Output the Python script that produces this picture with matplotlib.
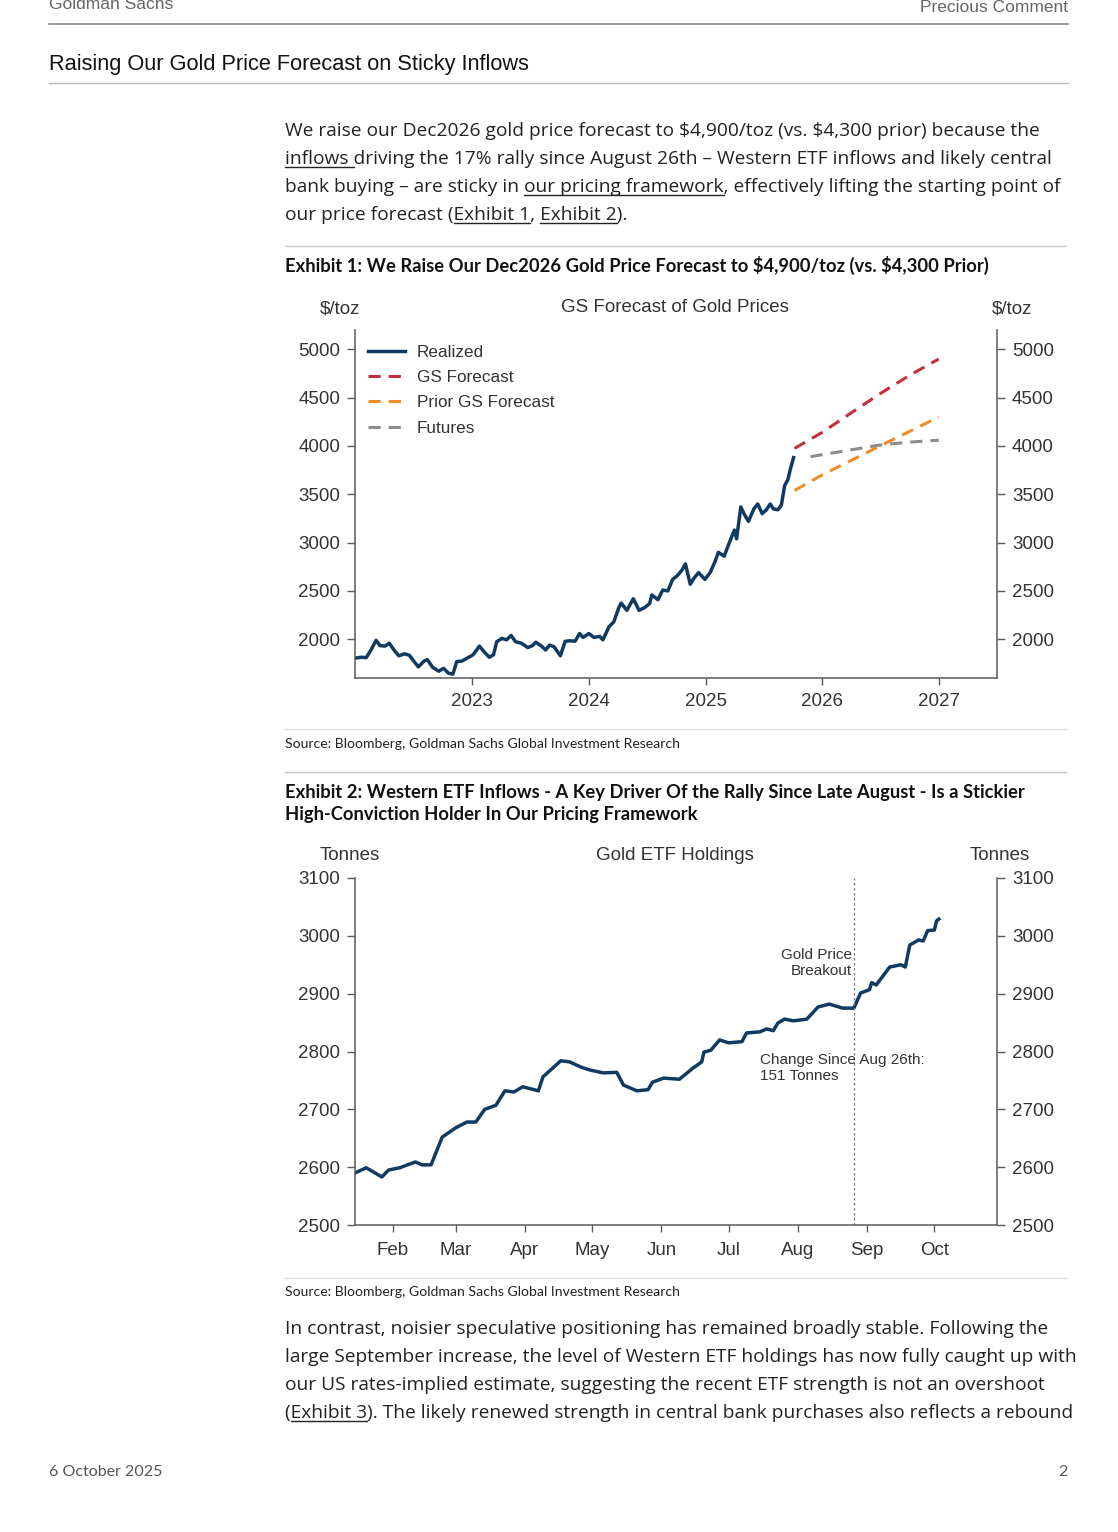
import matplotlib
matplotlib.use('Agg')
import matplotlib.pyplot as plt
import matplotlib.dates as mdates
from matplotlib.lines import Line2D
import pandas as pd

# ---- data: exhibit 1 (gold price, $/toz) ----
realized_dates = [
    '2022-01-01', '2022-01-21', '2022-02-05', '2022-02-20', '2022-03-08', '2022-03-20',
    '2022-04-05', '2022-04-18', '2022-05-05', '2022-05-18', '2022-06-05', '2022-06-20',
    '2022-07-05', '2022-07-18', '2022-08-05', '2022-08-15', '2022-09-01', '2022-09-20',
    '2022-10-05', '2022-10-20', '2022-11-03', '2022-11-15', '2022-12-01', '2022-12-20',
    '2023-01-05', '2023-01-25', '2023-02-10', '2023-02-25', '2023-03-10', '2023-03-20',
    '2023-04-05', '2023-04-20', '2023-05-04', '2023-05-18', '2023-06-05', '2023-06-25',
    '2023-07-10', '2023-07-20', '2023-08-05', '2023-08-20', '2023-09-01', '2023-09-15',
    '2023-10-05', '2023-10-20', '2023-11-05', '2023-11-20', '2023-12-04', '2023-12-15',
    '2024-01-02', '2024-01-18', '2024-02-05', '2024-02-15', '2024-03-05', '2024-03-20',
    '2024-04-05', '2024-04-12', '2024-04-30', '2024-05-20', '2024-06-07', '2024-06-25',
    '2024-07-10', '2024-07-17', '2024-08-05', '2024-08-20', '2024-09-05', '2024-09-20',
    '2024-10-05', '2024-10-20', '2024-10-30', '2024-11-14', '2024-11-25', '2024-12-10',
    '2024-12-30', '2025-01-15', '2025-01-30', '2025-02-10', '2025-02-28', '2025-03-15',
    '2025-04-01', '2025-04-08', '2025-04-21', '2025-05-01', '2025-05-15', '2025-06-01',
    '2025-06-13', '2025-06-27', '2025-07-10', '2025-07-22', '2025-08-01', '2025-08-15',
    '2025-08-26', '2025-09-05', '2025-09-15', '2025-09-23', '2025-10-03']
realized_vals = [
    1805, 1815, 1810, 1890, 1990, 1935,
    1930, 1960, 1880, 1830, 1850, 1835,
    1770, 1715, 1775, 1790, 1710, 1670,
    1700, 1650, 1640, 1770, 1775, 1810,
    1840, 1930, 1865, 1815, 1840, 1975,
    2010, 1995, 2040, 1975, 1960, 1915,
    1935, 1970, 1935, 1890, 1940, 1925,
    1830, 1980, 1985, 1980, 2060, 2020,
    2060, 2020, 2030, 1995, 2130, 2180,
    2330, 2375, 2300, 2420, 2300, 2330,
    2370, 2460, 2410, 2510, 2500, 2620,
    2660, 2720, 2780, 2570, 2630, 2690,
    2620, 2690, 2800, 2900, 2860, 2990,
    3130, 3040, 3370, 3300, 3220, 3350,
    3400, 3300, 3340, 3400, 3350, 3340,
    3390, 3590, 3650, 3760, 3880]

gs_dates = ['2025-10-06', '2025-12-31', '2026-03-31', '2026-06-30', '2026-09-30', '2026-12-31']
gs_vals = [3975, 4140, 4340, 4540, 4730, 4900]
prior_dates = ['2025-10-06', '2025-12-31', '2026-06-30', '2026-12-31']
prior_vals = [3540, 3700, 4000, 4300]
fut_dates = ['2025-11-25', '2026-03-31', '2026-06-30', '2026-09-30', '2026-12-31']
fut_vals = [3890, 3960, 4010, 4040, 4060]
year_ticks = ['2023-01-01', '2024-01-01', '2025-01-01', '2026-01-01', '2027-01-01']
price_ticks = [2000, 2500, 3000, 3500, 4000, 4500, 5000]

# ---- data: exhibit 2 (gold ETF holdings, tonnes) ----
etf_dates = [
    '2025-01-15', '2025-01-20', '2025-01-24', '2025-01-27', '2025-01-30', '2025-02-04',
    '2025-02-11', '2025-02-14', '2025-02-18', '2025-02-23', '2025-03-01', '2025-03-06',
    '2025-03-10', '2025-03-14', '2025-03-19', '2025-03-23', '2025-03-27', '2025-03-31',
    '2025-04-07', '2025-04-09', '2025-04-17', '2025-04-21', '2025-04-26', '2025-04-30',
    '2025-05-06', '2025-05-12', '2025-05-15', '2025-05-21', '2025-05-26', '2025-05-28',
    '2025-06-02', '2025-06-09', '2025-06-15', '2025-06-19', '2025-06-20', '2025-06-23',
    '2025-06-27', '2025-07-01', '2025-07-07', '2025-07-09', '2025-07-15', '2025-07-18',
    '2025-07-21', '2025-07-23', '2025-07-26', '2025-07-30', '2025-08-05', '2025-08-10',
    '2025-08-15', '2025-08-21', '2025-08-26', '2025-08-29', '2025-09-02', '2025-09-03',
    '2025-09-05', '2025-09-11', '2025-09-16', '2025-09-18', '2025-09-20', '2025-09-24',
    '2025-09-26', '2025-09-28', '2025-10-01', '2025-10-02', '2025-10-03']
etf_vals = [
    2590, 2599, 2590, 2583, 2595, 2599,
    2609, 2604, 2604, 2652, 2668, 2678,
    2678, 2700, 2707, 2732, 2730, 2739,
    2732, 2756, 2784, 2782, 2773, 2768,
    2763, 2764, 2742, 2732, 2734, 2747,
    2754, 2752, 2771, 2782, 2799, 2802,
    2820, 2815, 2817, 2832, 2834, 2839,
    2836, 2849, 2856, 2853, 2856, 2877,
    2882, 2875, 2875, 2901, 2907, 2919,
    2915, 2946, 2950, 2946, 2984, 2993,
    2991, 3009, 3010, 3026, 3029]
month_ticks = ['2025-02-01', '2025-03-01', '2025-04-01', '2025-05-01', '2025-06-01',
               '2025-07-01', '2025-08-01', '2025-09-01', '2025-10-01']
tonne_ticks = [2500, 2600, 2700, 2800, 2900, 3000, 3100]
breakout_date = '2025-08-26'

# ---- page text ----
para1 = [
    "We raise our Dec2026 gold price forecast to \\$4,900/toz (vs. \\$4,300 prior) because the",
    "inflows driving the 17% rally since August 26th \u2013 Western ETF inflows and likely central",
    "bank buying \u2013 are sticky in our pricing framework, effectively lifting the starting point of",
    "our price forecast (Exhibit 1, Exhibit 2).",
]
para1_links = {1: ["inflows "], 2: ["our pricing framework"], 3: ["Exhibit 1", "Exhibit 2"]}
para2 = [
    "In contrast, noisier speculative positioning has remained broadly stable. Following the",
    "large September increase, the level of Western ETF holdings has now fully caught up with",
    "our US rates-implied estimate, suggesting the recent ETF strength is not an overshoot",
    "(Exhibit 3). The likely renewed strength in central bank purchases also reflects a rebound",
]
para2_links = {3: ["Exhibit 3"]}

W, H = 1118, 1532
NAVY = '#0f3a62'
TXT = '#222222'
CH = '#333333'
BODY = 'Open Sans'
BOLD = 'Lato'
SMALL = 'Lato'
CHART = 'Liberation Sans'

fig = plt.figure(figsize=(W / 100, H / 100), dpi=100)
renderer = fig.canvas.get_renderer()


def fx(x):
    return x / W


def fy(y):
    return 1 - y / H


def hline(y, x0, x1, color, lw=1.0):
    fig.add_artist(Line2D([fx(x0), fx(x1)], [fy(y), fy(y)], color=color, lw=lw))


def text_w(s, size):
    # width incl. trailing spaces: measure against a sentinel
    def w(t):
        tt = fig.text(0, 0, t, fontsize=size, family=BODY)
        bb = tt.get_window_extent(renderer=renderer)
        tt.remove()
        return bb.width
    if s == '':
        return 0
    return w(s + '|') - w('|')


def paragraph(lines, links, x, y0, dy, size):
    for i, s in enumerate(lines):
        y = y0 + i * dy
        fig.text(fx(x), fy(y), s, fontsize=size, family=BODY, color=TXT, va='baseline')
        for u in links.get(i, []):
            k = s.index(u)
            a = text_w(s[:k], size)
            b = text_w(s[:k + len(u)], size)
            hline(y + 3, x + a, x + b, TXT, 1.0)


# ---- header ----
fig.text(fx(49), fy(9), 'Goldman Sachs', fontsize=12.5, family=CHART, color='#666666', va='baseline')
fig.text(fx(1068), fy(12), 'Precious Comment', fontsize=12.5, family=CHART, color='#666666',
         va='baseline', ha='right')
hline(24, 49, 1068, '#8a8a8a', 1.2)
fig.text(fx(49), fy(70), 'Raising Our Gold Price Forecast on Sticky Inflows', fontsize=15.7,
         family=CHART, color='#111111', va='baseline')
hline(83, 49, 1068, '#bbbbbb', 1.0)

paragraph(para1, para1_links, 285, 136, 28, 13.75)

hline(246, 285, 1066, '#c8c8c8', 1.0)
fig.text(fx(285), fy(272), 'Exhibit 1: We Raise Our Dec2026 Gold Price Forecast to \\$4,900/toz (vs. \\$4,300 Prior)',
         fontsize=13.2, family=BOLD, weight='bold', color='#111111', va='baseline')

# ---- exhibit 1 chart ----
ax1 = fig.add_axes([fx(355), fy(678), (997 - 355) / W, (678 - 330) / H])
ax1.plot(pd.to_datetime(realized_dates), realized_vals, color=NAVY, lw=2.5, label='Realized')
ax1.plot(pd.to_datetime(gs_dates), gs_vals, color='#c3303b', lw=2.2, dashes=(4, 2.6), label='GS Forecast')
ax1.plot(pd.to_datetime(prior_dates), prior_vals, color='#f28c28', lw=2.2, dashes=(4, 2.6), label='Prior GS Forecast')
ax1.plot(pd.to_datetime(fut_dates), fut_vals, color='#8c8c8c', lw=2.2, dashes=(4, 2.6), label='Futures')
ax1.set_xlim(pd.Timestamp('2022-01-01'), pd.Timestamp('2027-07-01'))
ax1.set_ylim(1600, 5200)
ax1.set_xticks(pd.to_datetime(year_ticks))
ax1.xaxis.set_major_formatter(mdates.DateFormatter('%Y'))
ax1.set_yticks(price_ticks)
leg = ax1.legend(loc='upper left', bbox_to_anchor=(0.02, 0.957), frameon=False, borderpad=0,
                 borderaxespad=0, handlelength=2.2, handletextpad=0.65, labelspacing=0.6,
                 prop={'family': CHART, 'size': 12.3})
for t in leg.get_texts():
    t.set_color(CH)

fig.text(fx(340), fy(309), '\\$/toz', fontsize=13.5, family=CHART, color=CH, ha='center', va='center')
fig.text(fx(1012), fy(309), '\\$/toz', fontsize=13.5, family=CHART, color=CH, ha='center', va='center')
fig.text(fx(675), fy(308), 'GS Forecast of Gold Prices', fontsize=13.5, family=CHART, color=CH,
         ha='center', va='center')

hline(729, 285, 1066, '#e2e2e2', 1.0)
fig.text(fx(285), fy(748), 'Source: Bloomberg, Goldman Sachs Global Investment Research', fontsize=10.1,
         family=SMALL, color='#222222', va='baseline')
hline(772, 285, 1066, '#c8c8c8', 1.0)

fig.text(fx(285), fy(798), 'Exhibit 2: Western ETF Inflows - A Key Driver Of the Rally Since Late August - Is a Stickier',
         fontsize=13.2, family=BOLD, weight='bold', color='#111111', va='baseline')
fig.text(fx(285), fy(820), 'High-Conviction Holder In Our Pricing Framework',
         fontsize=13.2, family=BOLD, weight='bold', color='#111111', va='baseline')

# ---- exhibit 2 chart ----
ax2 = fig.add_axes([fx(355), fy(1225), (997 - 355) / W, (1225 - 878) / H])
ax2.plot(pd.to_datetime(etf_dates), etf_vals, color=NAVY, lw=2.5)
ax2.axvline(pd.Timestamp(breakout_date), color='#777777', lw=0.9, ls=(0, (2, 2)))
ax2.set_xlim(pd.Timestamp('2025-01-15'), pd.Timestamp('2025-10-29'))
ax2.set_ylim(2500, 3100)
ax2.set_xticks(pd.to_datetime(month_ticks))
ax2.xaxis.set_major_formatter(mdates.DateFormatter('%b'))
ax2.set_yticks(tonne_ticks)
ax2.text(pd.Timestamp('2025-08-25'), 2953, 'Gold Price\nBreakout', fontsize=11, family=CHART, color=CH,
         ha='right', va='center', multialignment='right', linespacing=1.2)
ax2.text(pd.Timestamp('2025-07-15'), 2771, 'Change Since Aug 26th:\n151 Tonnes', fontsize=11, family=CHART,
         color=CH, ha='left', va='center', linespacing=1.2)

fig.text(fx(350), fy(856), 'Tonnes', fontsize=13.5, family=CHART, color=CH, ha='center', va='center')
fig.text(fx(1000), fy(856), 'Tonnes', fontsize=13.5, family=CHART, color=CH, ha='center', va='center')
fig.text(fx(675), fy(856), 'Gold ETF Holdings', fontsize=13.5, family=CHART, color=CH, ha='center', va='center')

for ax, xpad in ((ax1, 5.5), (ax2, 7.5)):
    ax.spines['top'].set_visible(False)
    for s in ('left', 'right', 'bottom'):
        ax.spines[s].set_color('#5a5a5a')
        ax.spines[s].set_linewidth(1.1)
    ax.tick_params(axis='y', left=True, right=True, labelleft=True, labelright=True, direction='out',
                   length=5.8, width=1.0, pad=5, colors='#5a5a5a', labelcolor=CH, labelsize=13.5)
    ax.tick_params(axis='x', direction='out', length=5, width=1.0, pad=xpad, colors='#5a5a5a',
                   labelcolor=CH, labelsize=13.5)
    for lab in ax.get_xticklabels() + ax.get_yticklabels():
        lab.set_family(CHART)

hline(1278, 285, 1066, '#e2e2e2', 1.0)
fig.text(fx(285), fy(1296), 'Source: Bloomberg, Goldman Sachs Global Investment Research', fontsize=10.1,
         family=SMALL, color='#222222', va='baseline')

paragraph(para2, para2_links, 285, 1334, 28, 13.75)

# ---- footer ----
fig.text(fx(49), fy(1476), '6 October 2025', fontsize=11.5, family=SMALL, color='#555555', va='baseline')
fig.text(fx(1068), fy(1476), '2', fontsize=11.5, family=SMALL, color='#555555', va='baseline', ha='right')

fig.savefig('out.png', dpi=100)
